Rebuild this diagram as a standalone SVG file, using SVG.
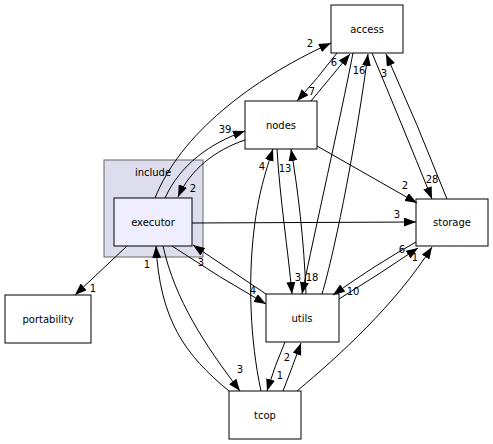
<svg xmlns="http://www.w3.org/2000/svg" width="493" height="444" viewBox="0 0 493 444">
<defs>
<marker id="ah" markerUnits="userSpaceOnUse" markerWidth="12" markerHeight="9" refX="12" refY="4.5" orient="auto">
<path d="M0,0 L12,4.5 L0,9 z" fill="#000"/>
</marker>
<style>
.n{fill:#fff;stroke:#000;stroke-width:1}
.t{font-family:"DejaVu Sans",sans-serif;font-size:10px;fill:#000;text-anchor:middle}
.e path{fill:none;stroke:#000;stroke-width:1;marker-end:url(#ah)}
.l{font-family:"DejaVu Sans",sans-serif;font-size:10px;fill:#000;text-anchor:middle}
</style>
</defs>
<rect width="493" height="444" fill="#fff"/>
<g id="cluster_include">
<rect x="104" y="160" width="99" height="97" fill="#ddddee" stroke="#666" stroke-width="1"/>
<text class="t" x="153" y="176">include</text>
</g>
<g id="executor">
<rect x="114" y="198" width="78" height="48" fill="#eeeeff" stroke="#000"/>
<text class="t" x="153" y="226">executor</text>
</g>
<g id="access">
<rect class="n" x="331" y="5" width="72" height="48"/>
<text class="t" x="367" y="33">access</text>
</g>
<g id="nodes">
<rect class="n" x="245" y="101" width="72" height="48"/>
<text class="t" x="281" y="129">nodes</text>
</g>
<g id="storage">
<rect class="n" x="416" y="199" width="72" height="47"/>
<text class="t" x="452" y="226">storage</text>
</g>
<g id="utils">
<rect class="n" x="266" y="294" width="73" height="48"/>
<text class="t" x="302" y="322">utils</text>
</g>
<g id="tcop">
<rect class="n" x="229" y="391" width="72" height="48"/>
<text class="t" x="265" y="419">tcop</text>
</g>
<g id="portability">
<rect class="n" x="5" y="295" width="86" height="48"/>
<text class="t" x="48" y="323">portability</text>
</g>
<g id="edges" class="e">
<path d="M155,198 C180,135 250,80 331,43"/>
<path d="M165,198 C180,165 210,143 245,131"/>
<path d="M245,140 C215,150 190,170 178,197"/>
<path d="M337,53 Q318,78 297,101"/>
<path d="M311,101 Q330,78 350,54"/>
<path d="M322,294 C335,250 355,150 368,54"/>
<path d="M353,53 C340,120 315,230 302,294"/>
<path d="M277,149 C280,200 288,250 292,294"/>
<path d="M306,294 C304,240 298,190 291,149"/>
<path d="M261,391 C250,340 248,280 254,230 C258,195 266,170 273,149"/>
<path d="M172,246 Q220,278 266,304"/>
<path d="M266,294 Q230,270 193,245"/>
<path d="M163,246 C175,300 205,345 240,391"/>
<path d="M229,391 C185,355 160,320 156,246"/>
<path d="M127,246 L75,295"/>
<path d="M192,223 L416,222"/>
<path d="M317,146 L417,203"/>
<path d="M372,53 Q400,120 432,199"/>
<path d="M447,199 Q418,125 386,54"/>
<path d="M416,242 Q375,265 333,295"/>
<path d="M339,299 Q378,275 418,248"/>
<path d="M297,391 C340,355 395,305 432,247"/>
<path d="M285,342 Q275,365 267,391"/>
<path d="M283,391 Q292,368 301,343"/>
</g>
<g id="labels">
<text class="l" x="310" y="47">2</text>
<text class="l" x="225" y="133">39</text>
<text class="l" x="193" y="192">2</text>
<text class="l" x="312" y="95">7</text>
<text class="l" x="334" y="66">6</text>
<text class="l" x="359" y="74">16</text>
<text class="l" x="312" y="281">18</text>
<text class="l" x="298" y="281">3</text>
<text class="l" x="285" y="172">13</text>
<text class="l" x="262" y="170">4</text>
<text class="l" x="253" y="294">4</text>
<text class="l" x="201" y="266">3</text>
<text class="l" x="240" y="373">3</text>
<text class="l" x="147" y="268">1</text>
<text class="l" x="93" y="292">1</text>
<text class="l" x="397" y="218">3</text>
<text class="l" x="405" y="189">2</text>
<text class="l" x="432" y="183">28</text>
<text class="l" x="384" y="77">3</text>
<text class="l" x="353" y="295">10</text>
<text class="l" x="402" y="253">6</text>
<text class="l" x="415" y="261">1</text>
<text class="l" x="280" y="379">1</text>
<text class="l" x="287" y="361">2</text>
</g>
</svg>
